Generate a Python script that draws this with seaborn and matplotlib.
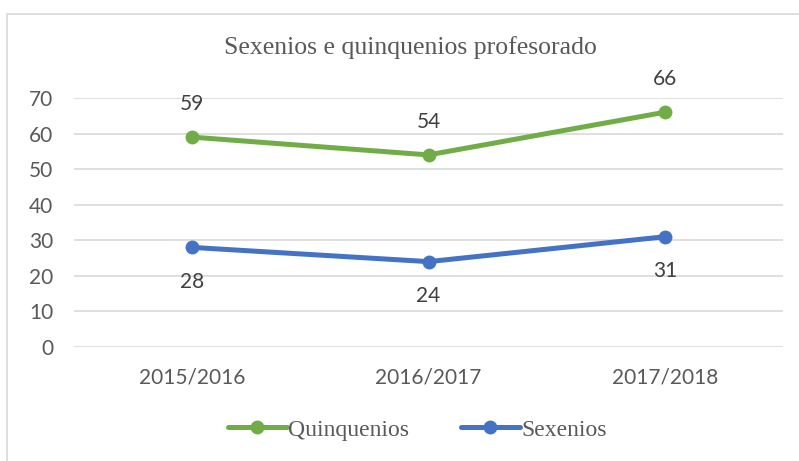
import pandas as pd
import matplotlib.pyplot as plt
import seaborn as sns

# chart data
cursos = ['2015/2016', '2016/2017', '2017/2018']
quinquenios = [59, 54, 66]
sexenios = [28, 24, 31]
series = ['Quinquenios', 'Sexenios']
colores = {'Quinquenios': '#70AD47', 'Sexenios': '#4472C4'}

df = pd.DataFrame({
    'curso': cursos * 2,
    'valor': quinquenios + sexenios,
    'serie': ['Quinquenios'] * 3 + ['Sexenios'] * 3,
})

sns.set_style('white')
fig = plt.figure(figsize=(7.99, 4.61), dpi=100)
ax = fig.add_axes([74 / 799, 1 - 347 / 461, (783 - 74) / 799, (347 - 98) / 461])

sns.lineplot(data=df, x='curso', y='valor', hue='serie', hue_order=series,
             palette=colores, marker='o', markersize=10, markeredgewidth=0,
             linewidth=3.6, ax=ax, legend=True)

ax.set_xlim(-0.5, 2.5)
ax.set_ylim(0, 70)
ax.set_yticks(range(0, 71, 10))
ax.grid(axis='y', color='#D9D9D9', linewidth=1.2)
ax.set_axisbelow(True)
for s in ax.spines.values():
    s.set_visible(False)
ax.tick_params(length=0, labelsize=15, labelcolor='#595959')
ax.tick_params(axis='y', pad=15)
ax.tick_params(axis='x', pad=15)
for lab in ax.get_xticklabels() + ax.get_yticklabels():
    lab.set_family('Lato')
ax.set_xlabel('')
ax.set_ylabel('')

# data labels
for i, v in enumerate(quinquenios):
    ax.annotate(str(v), (i, v), xytext=(0, 24), textcoords='offset points',
                ha='center', va='center', fontsize=15, color='#404040', family='Lato')
for i, v in enumerate(sexenios):
    ax.annotate(str(v), (i, v), xytext=(0, -25), textcoords='offset points',
                ha='center', va='center', fontsize=15, color='#404040', family='Lato')

fig.text(410 / 799, 1 - 48 / 461, 'Sexenios e quinquenios profesorado',
         ha='center', va='center', fontsize=18.5, color='#595959', family='Liberation Serif')

handles, labels = ax.get_legend_handles_labels()
ax.legend(handles, labels, loc='center', bbox_to_anchor=(417 / 799, 1 - 430 / 461),
          bbox_transform=fig.transFigure, ncol=2, frameon=False, handlelength=2.5,
          handletextpad=0.05, columnspacing=2.2,
          prop={'family': 'Liberation Serif', 'size': 17}, labelcolor='#595959')

# chart border
fig.add_artist(plt.Rectangle((7 / 799, -0.1), 1.1, 1 - 14 / 461 + 0.1, transform=fig.transFigure,
                             fill=False, edgecolor='#D9D9D9', linewidth=1.2))

fig.savefig('out.png', dpi=100)
